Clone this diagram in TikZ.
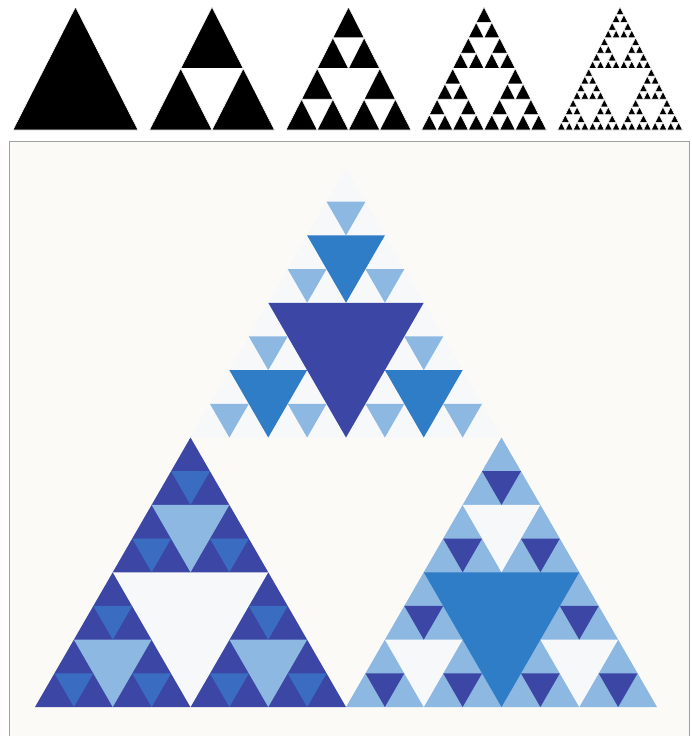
\documentclass[tikz,border=0pt]{standalone}
\usetikzlibrary{calc}
\definecolor{dblue}{HTML}{3C47A5}
\definecolor{mblue}{HTML}{2F7CC7}
\definecolor{mblueb}{HTML}{3A6CC2}
\definecolor{lblue}{HTML}{8CB8E2}
\definecolor{pale}{HTML}{F7F8FA}
\definecolor{bgpaper}{HTML}{FCFAF7}
\definecolor{framegray}{HTML}{A0A0A0}

% black Sierpinski leaves (top row)
\newcommand\sierleaf[5]{% #1 level, #2 apex x, #3 apex y, #4 width, #5 height
  \ifnum#1=0
    \fill[leaf] (#2,#3) -- ++(-#4/2,#5) -- ++(#4,0) -- cycle;
  \else
    \begingroup
      \pgfmathtruncatemacro\lv{#1-1}%
      \pgfmathsetmacro\hw{#4/2}%
      \pgfmathsetmacro\hh{#5/2}%
      \pgfmathsetmacro\xl{#2-#4/4}%
      \pgfmathsetmacro\xr{#2+#4/4}%
      \pgfmathsetmacro\ym{#3+#5/2}%
      \edef\tmp{\noexpand\sierleaf{\lv}{#2}{#3}{\hw}{\hh}%
        \noexpand\sierleaf{\lv}{\xl}{\ym}{\hw}{\hh}%
        \noexpand\sierleaf{\lv}{\xr}{\ym}{\hw}{\hh}}%
      \tmp
    \endgroup
  \fi}

% coloured holes, depth 1..3
\newcommand\holerec[5]{% #1 depth, #2 apex x, #3 apex y, #4 width, #5 height
  \fill[h#1] (#2-#4/4,#3+#5/2) -- (#2+#4/4,#3+#5/2) -- (#2,#3+#5) -- cycle;
  \ifnum#1<3
    \begingroup
      \pgfmathtruncatemacro\lv{#1+1}%
      \pgfmathsetmacro\hw{#4/2}%
      \pgfmathsetmacro\hh{#5/2}%
      \pgfmathsetmacro\xl{#2-#4/4}%
      \pgfmathsetmacro\xr{#2+#4/4}%
      \pgfmathsetmacro\ym{#3+#5/2}%
      \edef\tmp{\noexpand\holerec{\lv}{#2}{#3}{\hw}{\hh}%
        \noexpand\holerec{\lv}{\xl}{\ym}{\hw}{\hh}%
        \noexpand\holerec{\lv}{\xr}{\ym}{\hw}{\hh}}%
      \tmp
    \endgroup
  \fi}

\newcommand\colsier[9]{% apex x, apex y, w, h, fill, hole1, hole2, hole3
  \begin{scope}
    \tikzset{h1/.style={fill=#6},h2/.style={fill=#7},h3/.style={fill=#8}}
    \fill[#5] (#1,#2) -- ++(-#3/2,#4) -- ++(#3,0) -- cycle;
    \holerec{1}{#1}{#2}{#3}{#4}
  \end{scope}#9}

\begin{document}
\begin{tikzpicture}[x=1pt,y=-1pt,
  leaf/.style={fill=black,draw=white,line width=0.55pt,line join=miter}]
\useasboundingbox (0,0) rectangle (692,736);
\fill[white] (0,0) rectangle (692,736);

% top row: iterations 0..4
\sierleaf{0}{75.5}{7}{125}{123}
\sierleaf{1}{212}{7}{125}{123}
\sierleaf{2}{348.5}{7}{125}{123}
\sierleaf{3}{484}{7}{125}{123}
\sierleaf{4}{620}{7}{125}{123}

% framed coloured picture
\fill[bgpaper] (9,141) rectangle (689,736);
\draw[framegray,line width=1pt] (9,737) -- (9,141) -- (689,141) -- (689,737);

% top sub-triangle
\colsier{346}{168}{311}{269.5}{pale}{dblue}{mblue}{lblue}{}
% bottom-left sub-triangle
\colsier{190.5}{437.5}{311}{269.5}{dblue}{pale}{lblue}{mblueb}{}
% bottom-right sub-triangle
\colsier{501.5}{437.5}{311}{269.5}{lblue}{mblue}{pale}{dblue}{}
\end{tikzpicture}
\end{document}
